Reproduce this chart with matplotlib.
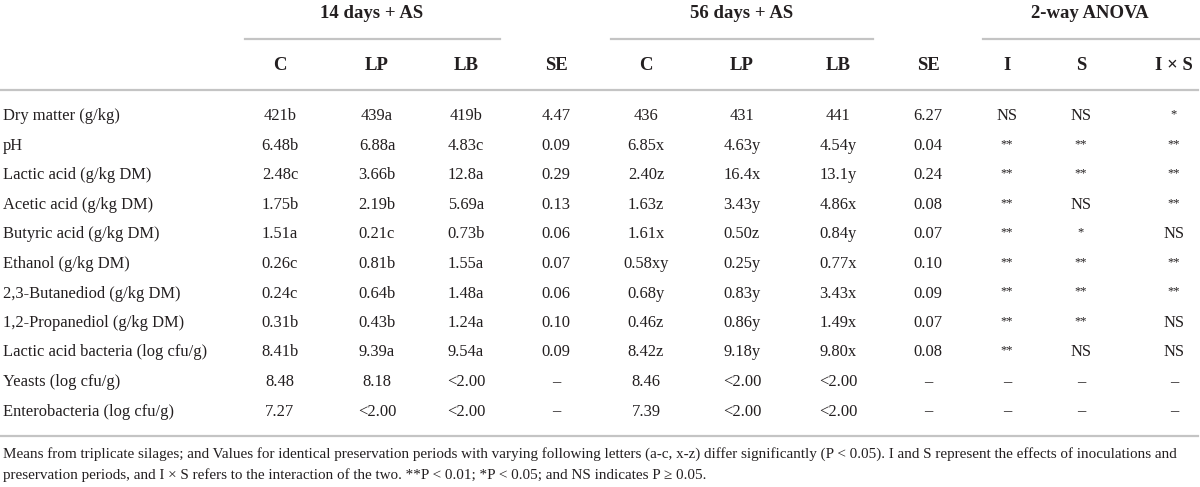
import matplotlib
matplotlib.use("Agg")
from matplotlib import pyplot as plt
from matplotlib import lines as mlines

plt.rcParams['font.family'] = ['Liberation Serif', 'DejaVu Serif']

# 데이터
row_labels = ["Dry matter (g/kg)", "pH", "Lactic acid (g/kg DM)", "Acetic acid (g/kg DM)",
              "Butyric acid (g/kg DM)", "Ethanol (g/kg DM)", "2,3-Butanediod (g/kg DM)",
              "1,2-Propanediol (g/kg DM)", "Lactic acid bacteria (log cfu/g)",
              "Yeasts (log cfu/g)", "Enterobacteria (log cfu/g)"]
group_labels = ["14 days + AS", "56 days + AS", "2-way ANOVA"]
col_labels = ["C", "LP", "LB", "SE", "C", "LP", "LB", "SE", "I", "S", "I × S"]

c14 = ["421b", "6.48b", "2.48c", "1.75b", "1.51a", "0.26c", "0.24c", "0.31b", "8.41b", "8.48", "7.27"]
lp14 = ["439a", "6.88a", "3.66b", "2.19b", "0.21c", "0.81b", "0.64b", "0.43b", "9.39a", "8.18", "<2.00"]
lb14 = ["419b", "4.83c", "12.8a", "5.69a", "0.73b", "1.55a", "1.48a", "1.24a", "9.54a", "<2.00", "<2.00"]
se14 = ["4.47", "0.09", "0.29", "0.13", "0.06", "0.07", "0.06", "0.10", "0.09", "–", "–"]
c56 = ["436", "6.85x", "2.40z", "1.63z", "1.61x", "0.58xy", "0.68y", "0.46z", "8.42z", "8.46", "7.39"]
lp56 = ["431", "4.63y", "16.4x", "3.43y", "0.50z", "0.25y", "0.83y", "0.86y", "9.18y", "<2.00", "<2.00"]
lb56 = ["441", "4.54y", "13.1y", "4.86x", "0.84y", "0.77x", "3.43x", "1.49x", "9.80x", "<2.00", "<2.00"]
se56 = ["6.27", "0.04", "0.24", "0.08", "0.07", "0.10", "0.09", "0.07", "0.08", "–", "–"]
anova_i = ["NS", "**", "**", "**", "**", "**", "**", "**", "**", "–", "–"]
anova_s = ["NS", "**", "**", "NS", "*", "**", "**", "**", "NS", "–", "–"]
anova_ixs = ["*", "**", "**", "**", "NS", "**", "**", "NS", "NS", "–", "–"]

footnote = ["Means from triplicate silages; and Values for identical preservation periods with varying following letters (a-c, x-z) differ significantly (P < 0.05). I and S represent the effects of inoculations and",
            "preservation periods, and I × S refers to the interaction of the two. **P < 0.01; *P < 0.05; and NS indicates P ≥ 0.05."]

columns = [c14, lp14, lb14, se14, c56, lp56, lb56, se56, anova_i, anova_s, anova_ixs]

# 배치 (픽셀 단위)
W, H = 1200, 487
col_x = [280, 377, 466, 556, 646, 742, 838, 928, 1007, 1081, 1174]
group_x = [372, 742, 1090]
group_lines = [(245, 500), (611, 873), (983, 1200)]
txt = '#231f20'
gray = '#c4c4c4'

fig = plt.figure(figsize=(12, 4.87), dpi=100)

def put(x, y, s, **kw):  # 픽셀 좌표 -> figure 좌표
    fig.text(x / W, 1 - y / H, s, color=txt, **kw)

def hline(x0, x1, y):
    fig.add_artist(mlines.Line2D([x0 / W, x1 / W], [1 - y / H, 1 - y / H],
                                 color=gray, lw=1.6, transform=fig.transFigure))

for g, gx in zip(group_labels, group_x):
    put(gx, 14, g, ha='center', va='center', fontsize=13.5, fontweight='bold')
for x0, x1 in group_lines:
    hline(x0, x1, 39)
for c, cx in zip(col_labels, col_x):
    put(cx, 66, c, ha='center', va='center', fontsize=13.5, fontweight='bold')
hline(0, 1198, 90)

row_y0, row_dy = 116.5, 29.5
for i, lab in enumerate(row_labels):
    y = row_y0 + i * row_dy
    put(3, y, lab, ha='left', va='center', fontsize=11.9)
    for col, cx in zip(columns, col_x):
        s = col[i]
        if set(s) == {'*'}:
            put(cx, y - 2, s, ha='center', va='center', fontsize=9)
        else:
            put(cx, y, s, ha='center', va='center', fontsize=11.9)

hline(0, 1198, 436)
put(3, 454, footnote[0], ha='left', va='center', fontsize=10.9)
put(3, 475, footnote[1], ha='left', va='center', fontsize=10.9)

fig.savefig('out.png', dpi=100)
